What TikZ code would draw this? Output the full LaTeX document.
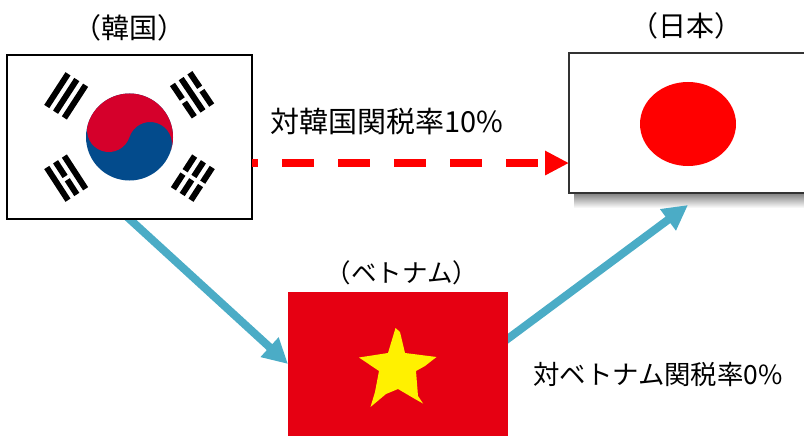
\documentclass[tikz,border=0pt]{standalone}
\usepackage{fontspec}
\usepackage{tikz}
\usetikzlibrary{arrows.meta,calc,backgrounds}
\newfontfamily\jpfont{Noto Sans CJK JP}
\definecolor{flagred}{HTML}{D5002B}
\definecolor{flagblue}{HTML}{034B8C}
\definecolor{vnred}{HTML}{E60012}
\definecolor{vnyellow}{HTML}{FFF100}
\definecolor{routeblue}{HTML}{4BACC6}
\tikzset{
	flagbox/.style={draw,fill=white,inner sep=0pt,outer sep=0pt},
	nametext/.style={font=\jpfont\fontsize{#1}{32}\selectfont,inner sep=0pt},
	ratetext/.style={font=\jpfont\fontsize{#1}{32}\selectfont,inner sep=0pt,anchor=west},
	routearrow/.style={draw=routeblue,line width=8pt,shorten <=-8pt,-{Triangle[length=25pt,width=25pt]}},
	taxarrow/.style={draw=red,line width=7.5pt,dash pattern=on 32pt off 24pt,dash phase=26pt,-{Triangle[length=24pt,width=23pt,fill=red]}},
	whole/.style={},
	broken/.style={dash pattern=on 17.5pt off 4pt},
}
\begin{document}
\begin{tikzpicture}[x=1pt,y=-1pt]
	\useasboundingbox (0,0) rectangle (804,436);
	% flags
	\node[flagbox,line width=1.6pt,minimum width=245pt,minimum height=164pt] (korea) at (129.5,137) {};
	\node[flagbox,draw=black!80,line width=1.2pt,minimum width=238pt,minimum height=140pt] (japan) at (688,123) {};
	\node[fill=vnred,inner sep=0pt,outer sep=0pt,minimum width=220pt,minimum height=144pt] (vietnam) at (398,364) {};
	\coordinate (japantip) at (688,205);
	% korea
	\fill[flagblue] (korea) circle (43.5);
	\fill[flagred] ($(korea)+(198:43.5)$) arc[start angle=198,end angle=378,radius=43.5]
		arc[start angle=18,end angle=-162,radius=21.75]
		arc[start angle=18,end angle=198,radius=21.75] -- cycle;
	\foreach \ang/\kinda/\kindb/\kindc in {213/whole/whole/whole,326/broken/whole/broken,147/whole/broken/whole,33/broken/broken/broken}{
		\foreach \off/\kind in {65/\kinda,75.5/\kindb,86/\kindc}{
			\edef\barstyle{\kind}
			\draw[line width=6pt,\barstyle] ($(korea)+(\ang:\off)+(\ang+90:19.5)$) -- ($(korea)+(\ang:\off)+(\ang-90:19.5)$);
		}
	}
	% japan
	\fill[red] (688,124) ellipse [x radius=48,y radius=42];
	% vietnam
	\fill[vnyellow] (395.5,328) -- (400,332) -- (405,353) -- (436.5,357) -- (425,366) -- (416,371) -- (418,396) -- (423,403.5)
		-- (415,399) -- (398,389) -- (386,394) -- (370.5,407) -- (375,392) -- (379,371) -- (359,357.5) -- (388,353) -- cycle;
	% labels
	\node[nametext=28] (koreaname) at (129,28) {（韓国）};
	\node[nametext=28] (japanname) at (686,26) {（日本）};
	\node[nametext=25.5] (vietnamname) at (402,273) {（ベトナム）};
	\node[ratetext=29] (koreatax) at (270,122) {対韓国関税率10\%};
	\node[ratetext=26.4] (vietnamtax) at (533,374) {対ベトナム関税率0\%};
	% routes
	\draw[taxarrow] (korea.-12.3) -- (korea.-12.3 -| japan.west);
	\begin{scope}[on background layer]
		\shade[top color=black!50,bottom color=white] (574,193) rectangle (804,208);
		\draw[routearrow] (korea.south) -- (vietnam.west);
		\draw[routearrow] (vietnam.13.3) -- (japantip);
	\end{scope}
\end{tikzpicture}
\end{document}
